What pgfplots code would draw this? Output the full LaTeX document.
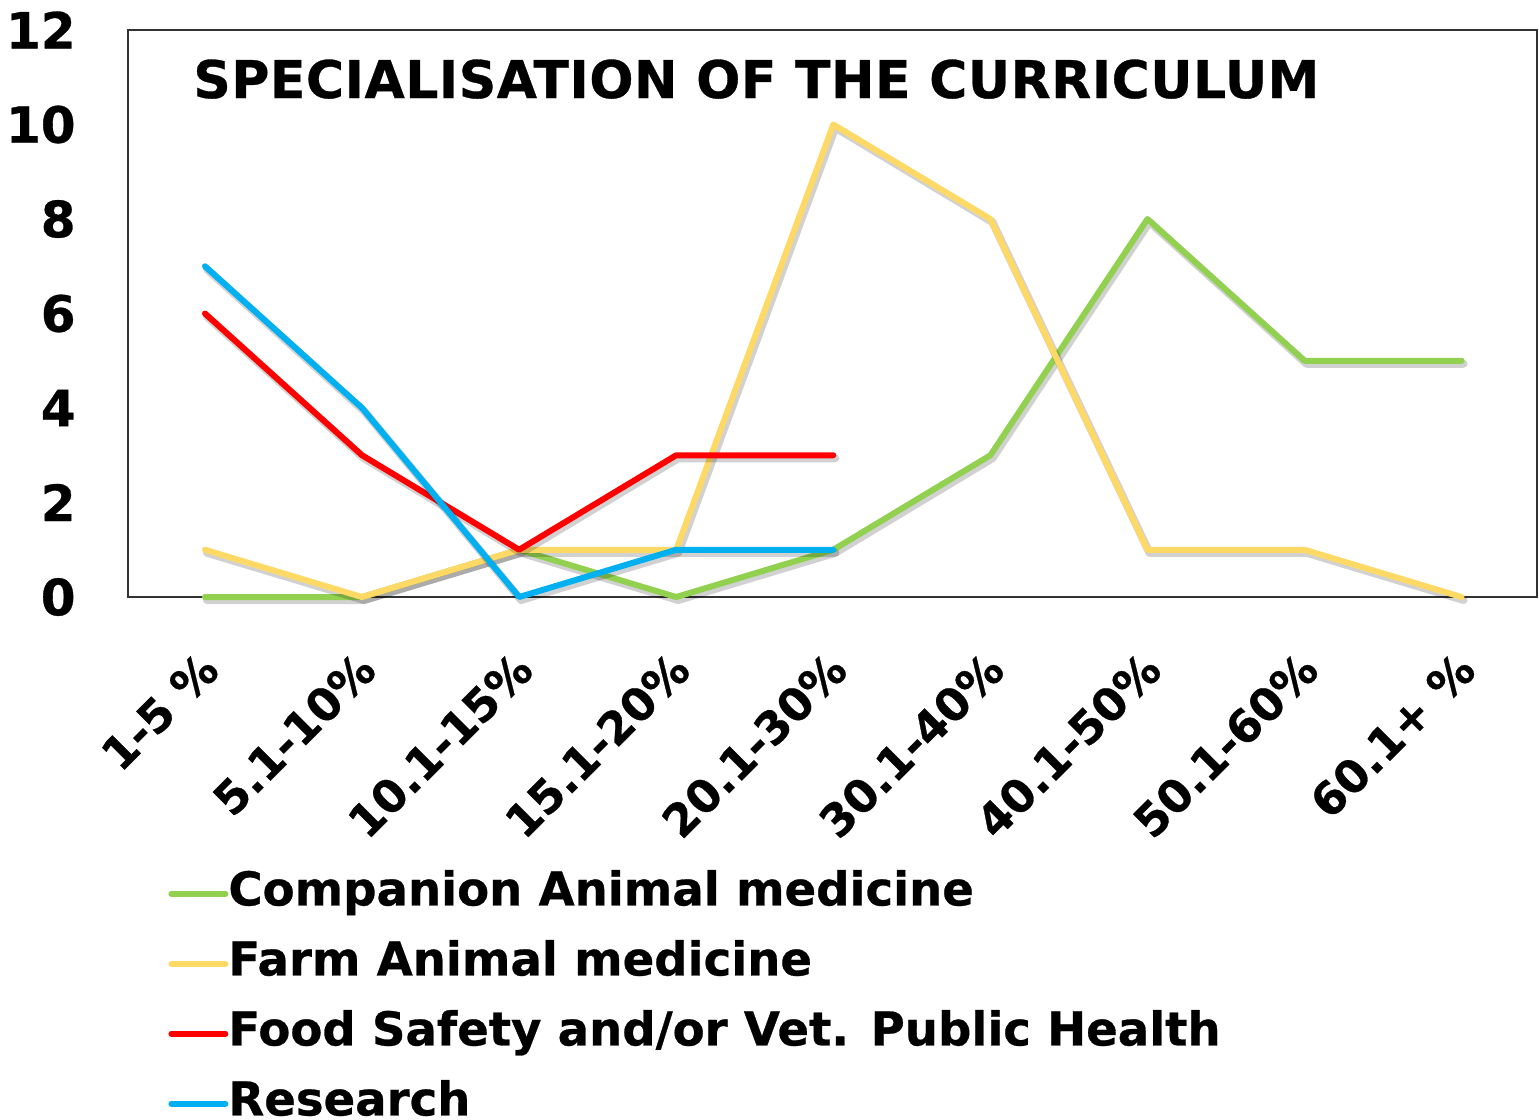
\documentclass[border=0pt]{standalone}
\usepackage{pgfplots}
\pgfplotsset{compat=1.18}
\usepackage{fontspec}
\setmainfont{DejaVu Sans}[BoldFeatures={FakeBold=0.6}]
\definecolor{cgreen}{HTML}{92D050}
\definecolor{cyellow}{HTML}{FFD966}
\definecolor{cred}{HTML}{FF0000}
\definecolor{cblue}{HTML}{00B0F0}
\pgfplotstableread{
x green yellow
0 0 1
1 0 0
2 1 1
3 0 1
4 1 10
5 3 8
6 8 1
7 5 1
8 5 0
}\tabA
\pgfplotstableread{
x red blue
0 6 7
1 3 4
2 1 0
3 3 1
4 3 1
}\tabB
\begin{document}
\begin{tikzpicture}
\useasboundingbox (0,0) rectangle (769.5pt,-560pt);
\begin{axis}[
 at={(64pt,-15pt)}, anchor=north west,
 scale only axis, width=704.5pt, height=283.5pt,
 xmin=-0.49, xmax=8.48, ymin=0, ymax=12,
 xtick={0,...,8},
 xticklabels={1-5 \%,5.1-10\%,10.1-15\%,15.1-20\%,20.1-30\%,30.1-40\%,40.1-50\%,50.1-60\%,60.1+ \%},
 ytick={0,2,...,12},
 major tick length=0pt,
 axis line style={draw=black!80, line width=1pt},
 clip=false,
 /pgf/number format/assume math mode=true,
 yticklabel style={font=\fontsize{25}{25}\bfseries\selectfont, inner sep=0pt, anchor=east, xshift=-26pt},
 xticklabel style={font=\fontsize{22.5}{22.5}\bfseries\selectfont, inner sep=0pt, yshift=-32pt, xshift=2.5pt, rotate=45, anchor=east},
 legend cell align=left,
 legend style={at={(0.0284,-0.4815)}, anchor=north west, draw=none, fill=none, inner sep=0pt,
   row sep=11.7pt, font=\fontsize{23.3}{23.3}\bfseries\selectfont,
   nodes={inner sep=0pt, text height=17.5pt, text depth=5.8pt}},
 legend image code/.code={\draw[#1, line width=3pt, line cap=round] (0pt,0pt) -- (27pt,0pt);},
 every axis plot/.append style={line width=3pt, line join=round, line cap=round, mark=none},
 shadow/.style={black, opacity=0.18, line width=4pt, xshift=1pt, yshift=-1.5pt, forget plot},
]
\addplot[shadow] table[x=x, y=green] {\tabA};
\addplot[cgreen] table[x=x, y=green] {\tabA};
\addlegendentry{Companion Animal medicine}
\addplot[shadow] table[x=x, y=yellow] {\tabA};
\addplot[cyellow] table[x=x, y=yellow] {\tabA};
\addlegendentry{Farm Animal medicine}
\addplot[shadow] table[x=x, y=red] {\tabB};
\addplot[cred] table[x=x, y=red] {\tabB};
\addlegendentry{Food Safety and/or Vet. Public Health}
\addplot[shadow] table[x=x, y=blue] {\tabB};
\addplot[cblue] table[x=x, y=blue] {\tabB};
\addlegendentry{Research}
\node[anchor=base west, inner sep=0pt, font=\fontsize{26}{26}\bfseries\selectfont] at (rel axis cs:0.0461,0.880) {\addfontfeatures{LetterSpace=1.0}SPECIALISATION OF THE CURRICULUM};
\end{axis}
\end{tikzpicture}
\end{document}
